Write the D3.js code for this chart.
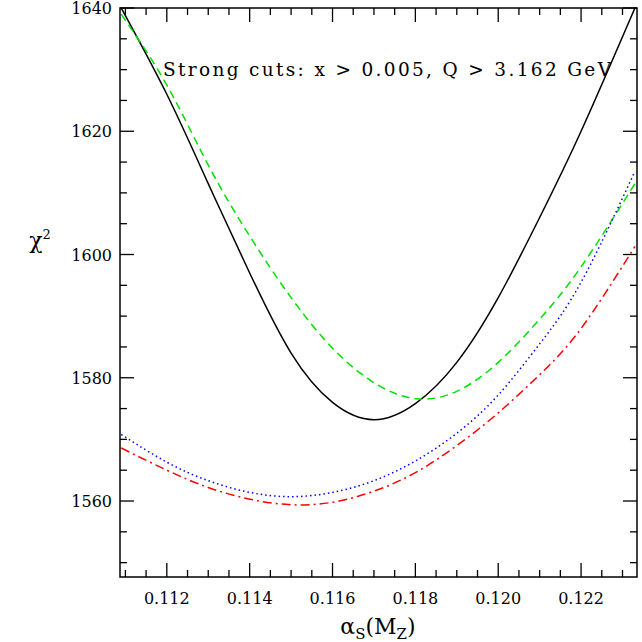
<!DOCTYPE html>
<html>
<head>
<meta charset="UTF-8">
<script src="https://cdn.jsdelivr.net/npm/d3@7"></script>
<style>body{margin:0;background:#fff}text{font-family:"DejaVu Serif",serif}</style>
</head>
<body>
<script>
const alphaS = [0.1109, 0.112, 0.113, 0.114, 0.115, 0.116, 0.117, 0.118, 0.119, 0.120, 0.121, 0.122, 0.1233];
const chiBlack = [1640, 1626, 1611.5, 1597, 1584, 1576, 1573.2, 1575.8, 1582.5, 1593, 1606, 1620, 1640];
const chiGreen = [1639, 1627.5, 1614.5, 1603, 1593, 1584.8, 1579.2, 1576.6, 1577.8, 1582.5, 1589.5, 1598, 1611.5];
const chiBlue = [1570.8, 1566.3, 1563.3, 1561.4, 1560.7, 1561.4, 1563.3, 1566.5, 1571, 1577.2, 1585.5, 1595.5, 1613.5];
const chiRed = [1568.6, 1565, 1562.2, 1560.3, 1559.4, 1559.8, 1561.6, 1564.6, 1569, 1574.3, 1580.5, 1588, 1601.3];
const xTicks = [0.112, 0.114, 0.116, 0.118, 0.120, 0.122];
const yTicks = [1560, 1580, 1600, 1620, 1640];

const W = 642, H = 642, m = {l: 120, r: 5, t: 8, b: 65};
const svg = d3.select('body').append('svg').attr('width', W).attr('height', H);
const x = d3.scaleLinear().domain([0.11087, 0.12335]).range([m.l, W - m.r]);
const y = d3.scaleLinear().domain([1547.67, 1640]).range([H - m.b, m.t]);

const g = svg.append('g');
// minor + major ticks on all sides, inward
const xMinor = d3.range(0.111, 0.1234, 0.0005);
const yMinor = d3.range(1550, 1641, 5);
function tick(x1, y1, x2, y2) {
    g.append('line').attr('x1', x1).attr('y1', y1).attr('x2', x2).attr('y2', y2).attr('stroke', '#000').attr('stroke-width', 1.3);
}
xMinor.forEach(v => {
    const major = xTicks.some(t => Math.abs(t - v) < 1e-6);
    const L = major ? 14 : 7;
    tick(x(v), y.range()[0], x(v), y.range()[0] - L);
    tick(x(v), y.range()[1], x(v), y.range()[1] + L);
});
yMinor.forEach(v => {
    const major = yTicks.includes(v);
    const L = major ? 14 : 7;
    tick(x.range()[0], y(v), x.range()[0] + L, y(v));
    tick(x.range()[1], y(v), x.range()[1] - L, y(v));
});
xTicks.forEach(v => g.append('text').attr('x', x(v)).attr('y', H - m.b + 27).attr('text-anchor', 'middle').attr('font-size', 16).text(v.toFixed(3)));
yTicks.forEach(v => g.append('text').attr('x', m.l - 8).attr('y', y(v) + 6).attr('text-anchor', 'end').attr('font-size', 16).text(v));

const clip = svg.append('clipPath').attr('id', 'c').append('rect')
    .attr('x', m.l).attr('y', m.t).attr('width', W - m.l - m.r).attr('height', H - m.t - m.b);
const line = d3.line().x((d, i) => x(alphaS[i])).y(d => y(d)).curve(d3.curveNatural);
const series = [
    {d: chiBlack, c: '#000', dash: null},
    {d: chiGreen, c: '#00e000', dash: '8,5'},
    {d: chiBlue, c: '#0000ff', dash: '1.5,3'},
    {d: chiRed, c: '#ff0000', dash: '9,4,2,4'}
];
svg.append('g').attr('clip-path', 'url(#c)').selectAll('path').data(series).enter().append('path')
    .attr('d', s => line(s.d)).attr('fill', 'none').attr('stroke', s => s.c)
    .attr('stroke-width', 1.5).attr('stroke-dasharray', s => s.dash);

svg.append('rect').attr('x', m.l).attr('y', m.t).attr('width', W - m.l - m.r).attr('height', H - m.t - m.b)
    .attr('fill', 'none').attr('stroke', '#000').attr('stroke-width', 1.5);

svg.append('text').attr('x', 163).attr('y', 76).attr('font-size', 18.5).attr('textLength', 448).text('Strong cuts: x > 0.005, Q > 3.162 GeV');
svg.append('text').attr('x', 40).attr('y', 248).attr('font-size', 22).attr('text-anchor', 'middle')
    .html('χ<tspan dy="-9" font-size="13">2</tspan>');
svg.append('text').attr('x', 378).attr('y', 634).attr('font-size', 22).attr('text-anchor', 'middle')
    .html('α<tspan dy="5" font-size="15">S</tspan><tspan dy="-5">(M</tspan><tspan dy="5" font-size="15">Z</tspan><tspan dy="-5">)</tspan>');
</script>
</body>
</html>
